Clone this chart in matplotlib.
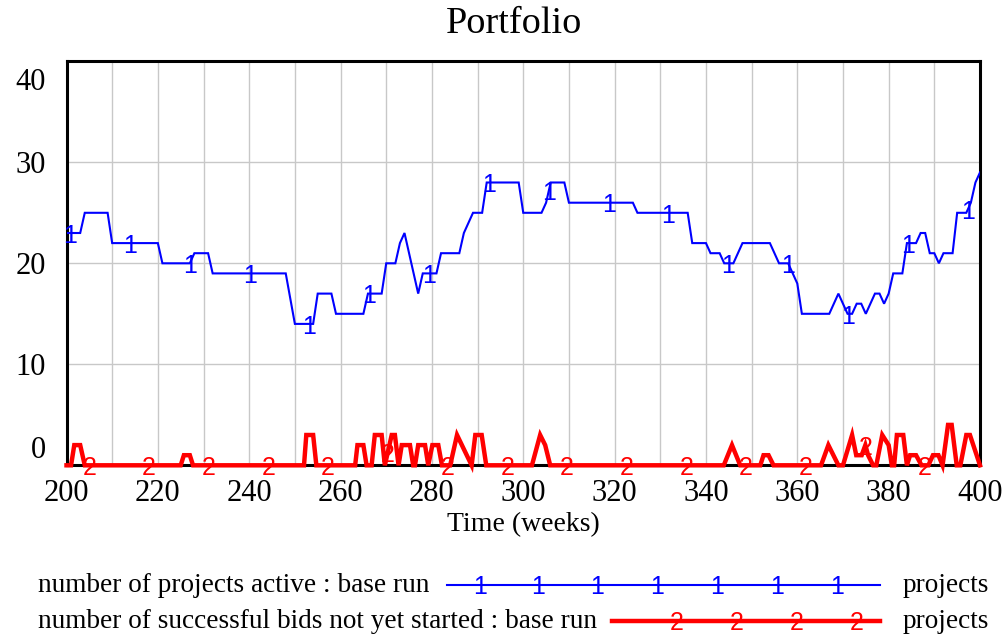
import numpy as np
import matplotlib
matplotlib.use("Agg")
import matplotlib.pyplot as plt
from matplotlib.lines import Line2D
from matplotlib.transforms import ScaledTranslation

# ---- data ----
active_t = [200, 203, 204, 209, 210, 220, 221, 227, 228, 231, 232, 248, 250, 254, 255,
            258, 259, 265, 266, 269, 270, 272, 273, 274, 275, 276, 277, 278, 281, 282,
            286, 287, 288, 289, 291, 292, 299, 300, 304, 305, 306, 309, 310, 324, 325,
            336, 337, 340, 341, 343, 344, 346, 347, 348, 354, 355, 356, 358, 359, 360,
            361, 367, 368, 369, 370, 371, 372, 373, 374, 375, 376, 377, 378, 379, 380,
            381, 383, 384, 386, 387, 388, 389, 390, 391, 392, 394, 395, 397, 398, 399, 400]
active_v = [23, 23, 25, 25, 22, 22, 20, 20, 21, 21, 19, 19, 14, 14, 17,
            17, 15, 15, 17, 17, 20, 20, 22, 23, 21, 19, 17, 19, 19, 21,
            21, 23, 24, 25, 25, 28, 28, 25, 25, 26, 28, 28, 26, 26, 25,
            25, 22, 22, 21, 21, 20, 20, 21, 22, 22, 21, 20, 20, 19, 18,
            15, 15, 16, 17, 16, 15, 15, 16, 16, 15, 16, 17, 17, 16, 17,
            19, 19, 22, 22, 23, 23, 21, 21, 20, 21, 21, 25, 25, 26, 28, 29]

bids_t = [200, 201, 201.7, 203, 204,
          225, 225.7, 227, 227.7,
          252, 252.5, 254, 254.7,
          263.2, 263.7, 265, 265.7,
          266.8, 267.5, 269, 269.7,
          271.2, 271.9, 272.7,
          273.4, 275.2, 275.9,
          276.3, 277.0, 278.5, 279.2,
          280.1, 281.4, 282.2,
          284.0, 285.5, 288.7, 289.5, 290.9, 291.9,
          301.9, 303.7, 304.8, 305.9,
          343.9, 345.7, 347.5,
          351.9, 352.6, 353.7, 354.8,
          365.2, 366.8, 369.0,
          370.0, 372.0, 372.9, 374.1, 374.9, 375.5, 376.6,
          377.3, 378.6, 380.0, 380.7,
          381.2, 381.8, 383.2, 384.0,
          384.7, 386.0, 387.2,
          388.7, 389.7, 390.9, 391.8, 393.0, 393.8, 394.9,
          395.7, 397.0, 397.8, 400]
bids_v = [0, 0, 2, 2, 0,
          0, 1, 1, 0,
          0, 3, 3, 0,
          0, 2, 2, 0,
          0, 3, 3, 0,
          3, 3, 0,
          2, 2, 0,
          0, 2, 2, 0,
          2, 2, 0,
          0, 3, 0, 3, 3, 0,
          0, 3, 2, 0,
          0, 2, 0,
          0, 1, 1, 0,
          0, 2, 0,
          0, 3, 1, 1, 2, 1, 0,
          0, 3, 2, 0,
          0, 3, 3, 0,
          1, 1, 0,
          0, 1, 1, 0, 4, 4, 0,
          0, 3, 3, 0]

x_ticks = [200, 220, 240, 260, 280, 300, 320, 340, 360, 380, 400]
y_ticks = [0, 10, 20, 30, 40]

title = "Portfolio"
x_label = "Time (weeks)"
series1_name = "number of projects active : base run"
series2_name = "number of successful bids not yet started : base run"
units = "projects"

BLUE = "#0000ff"
RED = "#ff0000"
SERIF = ["Liberation Serif", "DejaVu Serif"]
SANS = ["Liberation Sans", "DejaVu Sans"]
MARK_FS = 18
LEG_FS = 19.6

W, H = 1008, 642
fig = plt.figure(figsize=(W / 100, H / 100), dpi=100)

def fx(px):
    return px / W

def fy(py):
    return 1 - py / H

L, R, T, B = 66.5, 980.0, 61.3, 465.3
ax = fig.add_axes([fx(L), fy(B), fx(R) - fx(L), fy(T) - fy(B)])

ax.plot(active_t, active_v, color=BLUE, lw=1.5, zorder=3, solid_joinstyle="miter")
ax.plot(bids_t, bids_v, color=RED, lw=3.2, zorder=4, clip_on=False, solid_joinstyle="miter")

# series number markers (Vensim style)
for k in range(16):
    t = 200.8 + 13.1 * k
    v = np.interp(t, active_t, active_v)
    ax.annotate("1", (t, v), xytext=(0, -7), textcoords="offset points",
                ha="center", va="baseline", color=BLUE, fontsize=MARK_FS,
                family=SANS, zorder=5, annotation_clip=False)
for k in range(15):
    t = 205.0 + 13.07 * k
    v = np.interp(t, bids_t, bids_v)
    ax.annotate("2", (t, v), xytext=(0, -7), textcoords="offset points",
                ha="center", va="baseline", color=RED, fontsize=MARK_FS,
                family=SANS, zorder=5, annotation_clip=False)

ax.set_xlim(200, 400)
ax.set_ylim(0, 40)
ax.set_xticks(x_ticks)
ax.set_xticks(np.arange(200, 401, 10), minor=True)
ax.set_yticks(y_ticks)
ax.set_xticklabels([str(v) for v in x_ticks], family=SERIF, fontsize=22)
ax.set_yticklabels([str(v) for v in y_ticks], family=SERIF, fontsize=22)
ax.tick_params(axis="both", which="both", length=0)
ax.tick_params(axis="x", pad=10)
ax.tick_params(axis="y", pad=15)
for lbl in ax.get_yticklabels():
    if lbl.get_text() == "0":
        lbl.set_verticalalignment("bottom")
    elif lbl.get_text() == "40":
        lbl.set_verticalalignment("top")
        lbl.set_transform(lbl.get_transform()
                          + ScaledTranslation(0, -5 / 72, fig.dpi_scale_trans))

ax.grid(True, which="both", axis="x", color="#c8c8c8", lw=1.0)
ax.grid(True, which="major", axis="y", color="#c8c8c8", lw=1.0)
ax.set_axisbelow(True)
for s in ax.spines.values():
    s.set_linewidth(2.2)
    s.set_color("black")

ax.set_xlabel(x_label, family=SERIF, fontsize=20)
ax.xaxis.set_label_coords(0.5, (B - 512) / (B - T))

fig.text(fx(514.5), fy(33.3), title, ha="center", va="baseline",
         family=SERIF, fontsize=27.5)

# legend
y1, y2 = 585, 621
fig.text(fx(38), fy(y1), series1_name, ha="left", va="center", family=SERIF, fontsize=LEG_FS)
fig.text(fx(38), fy(y2), series2_name, ha="left", va="center", family=SERIF, fontsize=LEG_FS)
fig.text(fx(903), fy(y1), units, ha="left", va="center", family=SERIF, fontsize=LEG_FS)
fig.text(fx(903), fy(y2), units, ha="left", va="center", family=SERIF, fontsize=LEG_FS)
fig.add_artist(Line2D([fx(447), fx(880)], [fy(y1), fy(y1)], color=BLUE, lw=1.5))
fig.add_artist(Line2D([fx(612), fx(880)], [fy(y2), fy(y2)], color=RED, lw=3.2))
for px in [480, 538, 597, 657, 717, 777, 837]:
    fig.text(fx(px), fy(y1 + 9), "1", ha="center", va="baseline", color=BLUE,
             family=SANS, fontsize=MARK_FS)
for px in [677, 737, 797, 857]:
    fig.text(fx(px), fy(y2 + 9), "2", ha="center", va="baseline", color=RED,
             family=SANS, fontsize=MARK_FS)

fig.savefig("out.png", dpi=100)
